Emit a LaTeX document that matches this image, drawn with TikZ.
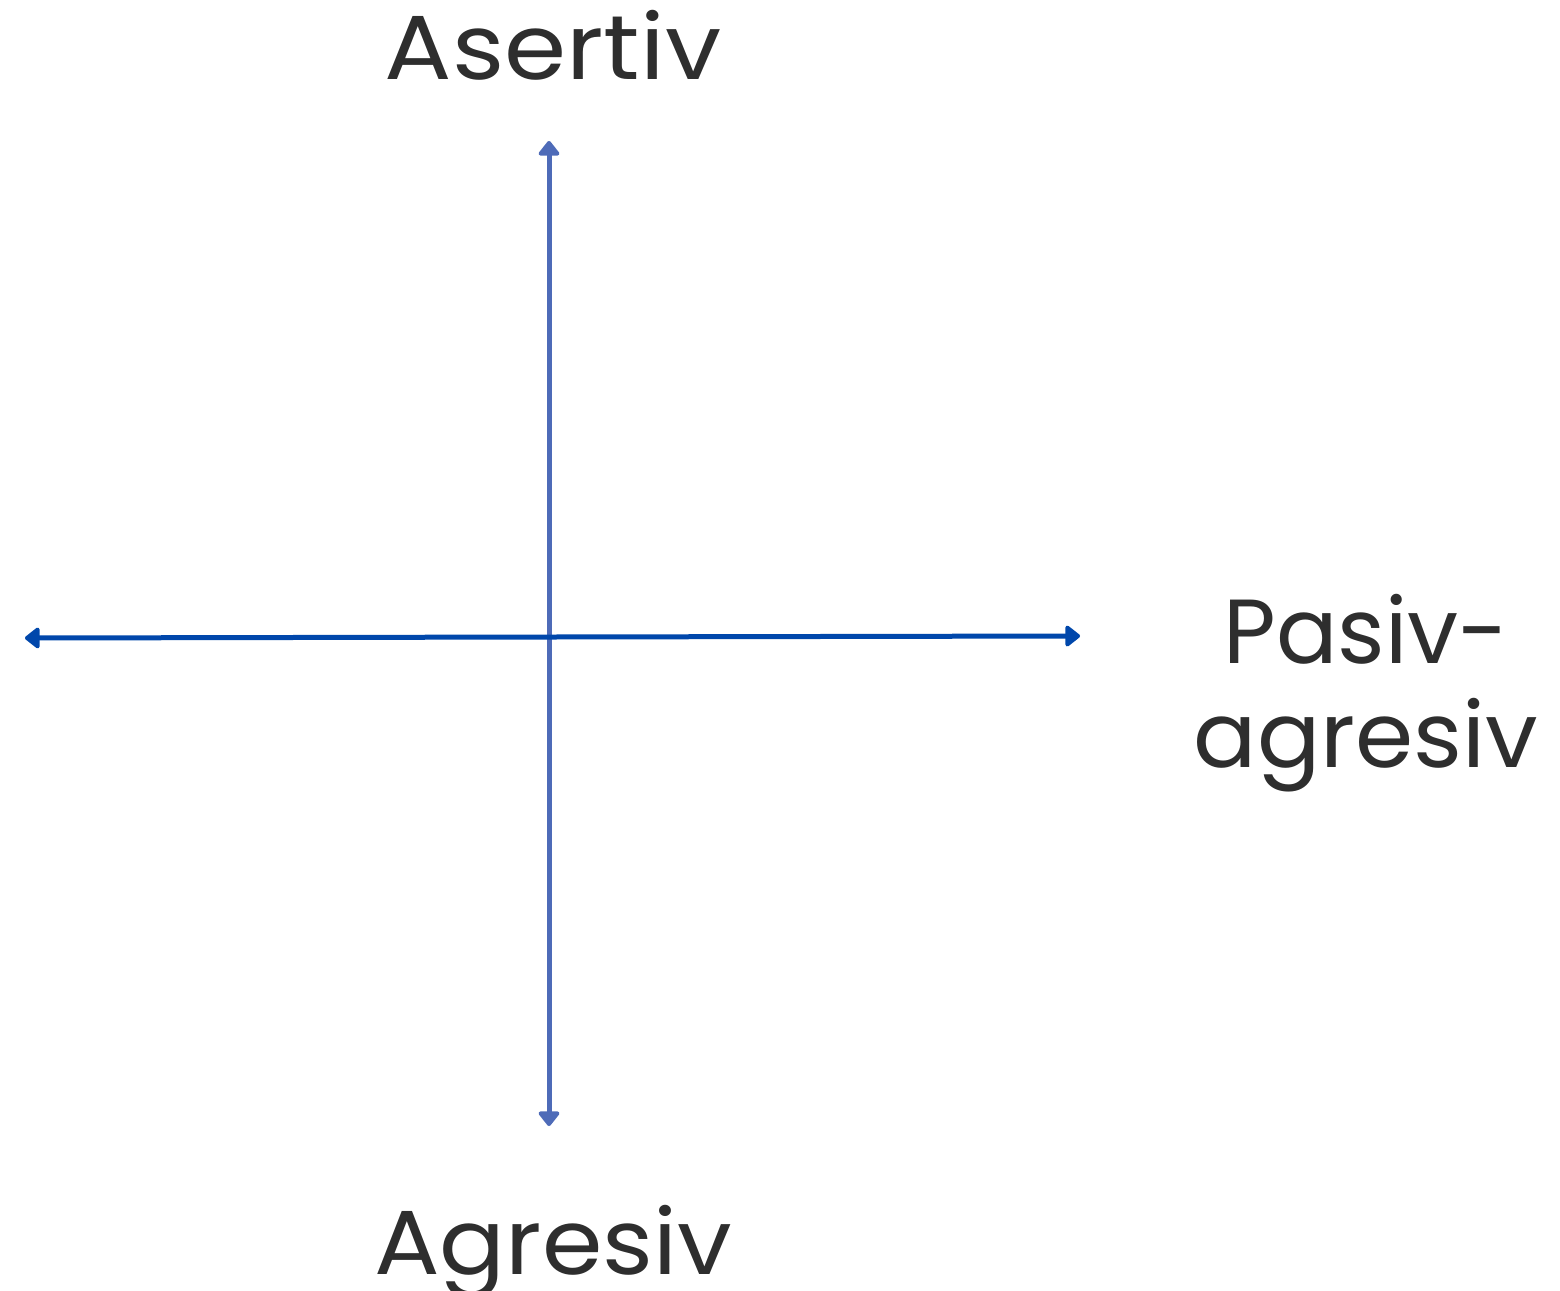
\documentclass[tikz,border=0pt]{standalone}
\usepackage{fontspec}
\setmainfont{Poppins}
\usetikzlibrary{arrows.meta}
\definecolor{vblue}{HTML}{4E6BB8}
\definecolor{hblue}{HTML}{0047AB}
\definecolor{txt}{HTML}{2E2E2E}
\tikzset{
  axis/.style={line width=5pt, line join=round, {Triangle[length=16pt,width=24pt,round]}-{Triangle[length=16pt,width=24pt,round]}},
  lbl/.style={text=txt, font=\fontsize{91}{104}\selectfont, inner sep=0pt, anchor=base, align=center}
}
\begin{document}
\begin{tikzpicture}[x=1pt,y=-1pt]
\useasboundingbox (0,0) rectangle (1560,1290);
\coordinate (top) at (549,141);
\coordinate (bot) at (549,1126);
\coordinate (left) at (25,638);
\coordinate (right) at (1080,636);
\draw[axis, draw=vblue, fill=vblue] (bot) -- (top);
\draw[axis, draw=hblue, fill=hblue] (left) -- (right);
\node[lbl, xscale=1.1] (asertiv) at (553,79) {Asertiv};
\node[lbl, xscale=1.07] (agresiv) at (553,1274) {Agresiv};
\node[lbl] (pasiv) at (1366,663) {Pasiv-};
\node[lbl, xscale=1.03] (pasagr) at (1366,767) {agresiv};
\end{tikzpicture}
\end{document}
